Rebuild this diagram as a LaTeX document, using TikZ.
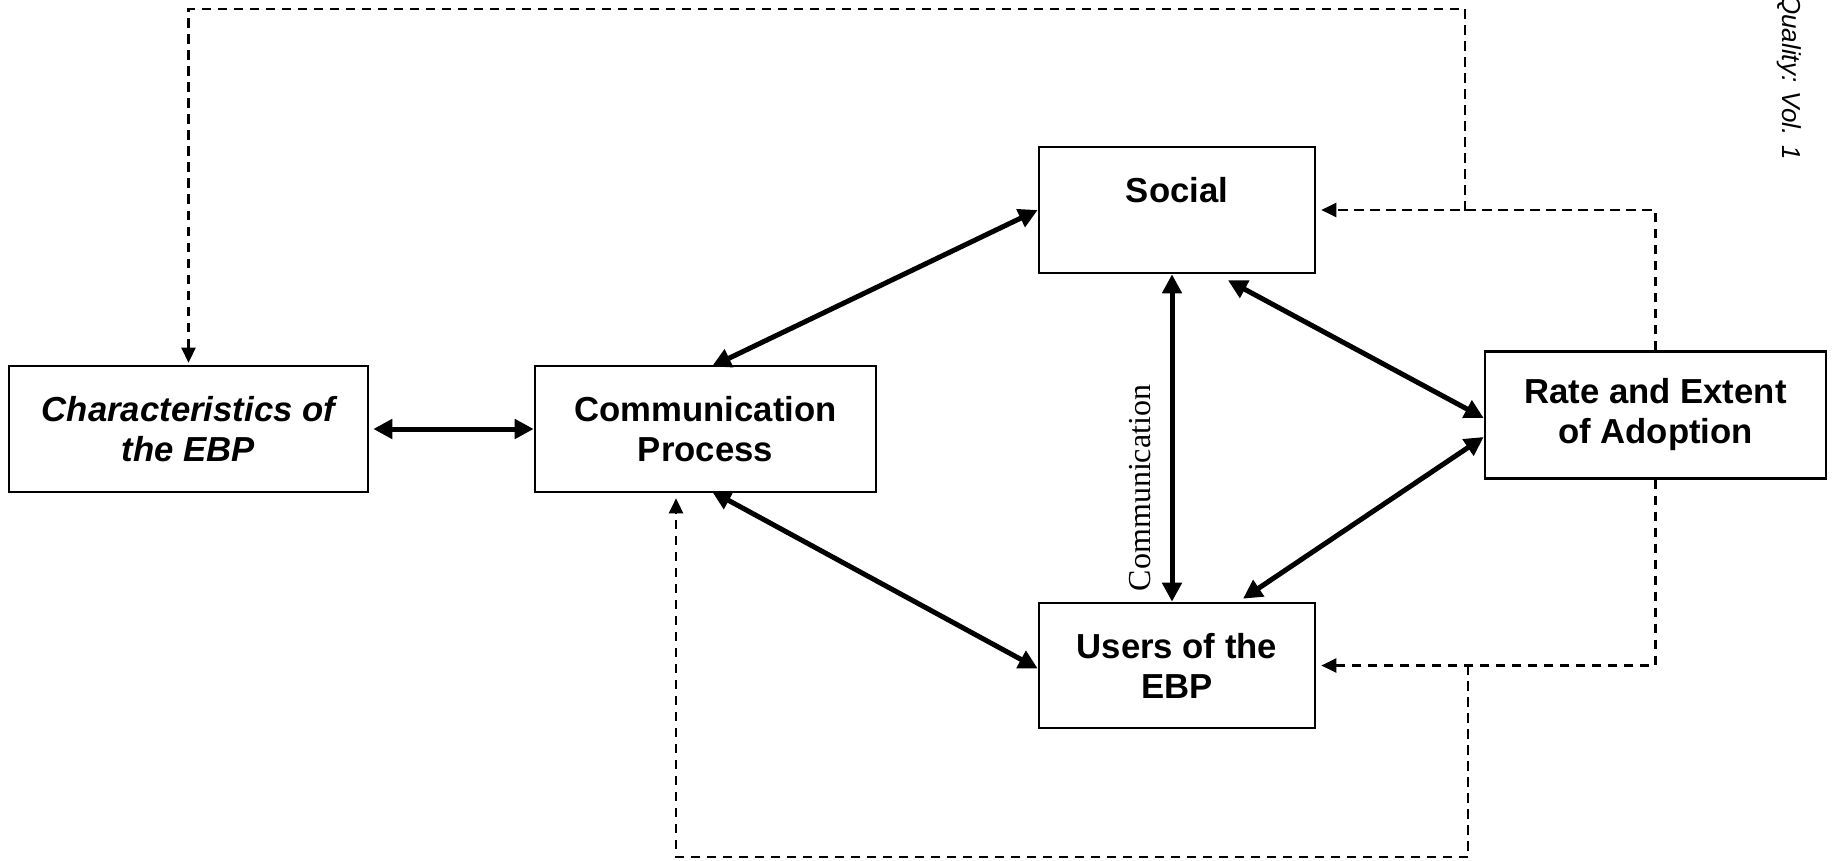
\documentclass[tikz,border=0pt]{standalone}
\usepackage{fontspec}
\setmainfont{Liberation Sans}
\newfontfamily\serifnf{Liberation Serif}
\usetikzlibrary{arrows.meta,calc}
\begin{document}
\begin{tikzpicture}[x=1pt,y=-1pt,
  box/.style={draw, line width=2.6pt, inner sep=0pt, align=center,
    font=\bfseries\fontsize{34.7}{40}\selectfont},
  solidarr/.style={line width=5pt, {Triangle[length=19pt,width=19pt]}-{Triangle[length=19pt,width=19pt]}},
  dasharr/.style={line width=2.6pt, dash pattern=on 9.5pt off 6.5pt, -{Triangle[length=15pt,width=14pt]}},
]
\useasboundingbox (0,0) rectangle (1838,861);

\node[box, minimum width=359pt, minimum height=126pt, font=\bfseries\itshape\fontsize{34.7}{40}\selectfont] (char) at (188.5,429) {Characteristics of\\the EBP};
\node[box, minimum width=341pt, minimum height=126pt] (cp) at (705.5,429) {Communication\\Process};
\node[box, minimum width=276pt, minimum height=126pt] (social) at (1177,210) {Social\\\mbox{}};
\node[box, minimum width=276pt, minimum height=125pt] (users) at (1177,665.5) {Users of the\\EBP};
\node[box, minimum width=341pt, minimum height=127pt] (rate) at (1655.5,415) {Rate and Extent\\of Adoption};

\node[rotate=90, anchor=base, font=\serifnf\fontsize{32}{36}\selectfont] (comm) at (1150,488) {Communication};
\node[rotate=-90, anchor=base west, inner sep=0pt, font=\itshape\fontsize{26}{30}\selectfont] (qual) at (1782,-6) {Quality: Vol. 1};

% solid arrows
\draw[solidarr, shorten <=4pt] (char.east) -- (cp.west);
\draw[solidarr, shorten <=-4pt] ([xshift=10pt]cp.north) -- (social.west);
\draw[solidarr, shorten <=-4pt] ([xshift=10pt]cp.south) -- ([yshift=-3pt]users.west);
\draw[solidarr] ([xshift=-5pt]social.south) -- ([xshift=-5pt]users.north);
\draw[solidarr] ([xshift=51pt,yshift=-6pt]social.south) -- ([yshift=-3pt]rate.west);
\draw[solidarr] ([xshift=66pt,yshift=3pt]users.north) -- ([yshift=-22pt]rate.west);

% dashed feedback
\coordinate (j1) at (1465,211);
\coordinate (t1) at (1465,9);
\coordinate (j2) at (1468,665);
\coordinate (b1) at (1468,857);
\draw[dasharr, shorten >=5pt] (rate.north) |- (social.east);
\draw[dasharr, shorten >=2pt] (j1) -- (t1) -| (char.north);
\draw[dasharr, shorten >=5pt] (rate.south) |- (users.east);
\draw[dasharr, shorten >=5pt] (j2) -- (b1) -| ([xshift=-29.5pt]cp.south);
\end{tikzpicture}
\end{document}
